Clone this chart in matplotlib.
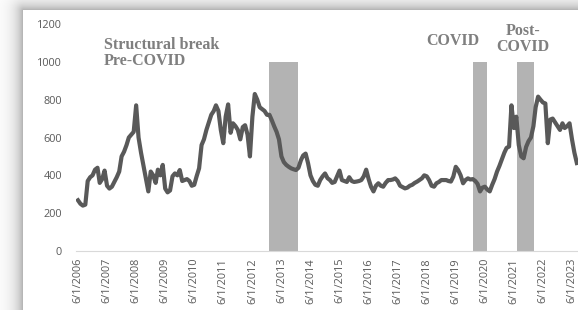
import datetime as dt
import numpy as np
import pandas as pd
import matplotlib
matplotlib.use("Agg")
import matplotlib.pyplot as plt
import matplotlib.dates as mdates

# monthly readings, Jun 2006 .. Aug 2023
v2006 = [268, 250, 240, 245, 370, 390, 400]
v2007 = [430, 440, 360, 380, 425, 345, 330, 340, 365, 390, 420, 500]
v2008 = [525, 560, 600, 615, 630, 770, 600, 520, 450, 380, 315, 420]
v2009 = [400, 360, 430, 400, 455, 330, 310, 320, 395, 410, 400, 428]
v2010 = [370, 375, 380, 370, 345, 350, 395, 437, 560, 590, 640, 680]
v2011 = [720, 740, 770, 740, 640, 570, 710, 775, 625, 675, 660, 640]
v2012 = [590, 655, 665, 615, 500, 710, 830, 800, 760, 750, 740, 720]
v2013 = [720, 690, 660, 630, 590, 500, 470, 455, 445, 437, 432, 428]
v2014 = [440, 480, 505, 515, 465, 400, 370, 350, 345, 375, 395, 410]
v2015 = [385, 375, 360, 365, 395, 425, 375, 370, 365, 390, 370, 365]
v2016 = [367, 370, 375, 395, 430, 380, 340, 315, 345, 358, 345, 340]
v2017 = [360, 375, 375, 378, 384, 370, 345, 338, 331, 335, 345, 350]
v2018 = [360, 367, 375, 384, 400, 395, 375, 345, 340, 358, 365, 375]
v2019 = [375, 375, 370, 367, 393, 445, 428, 400, 358, 375, 384, 378]
v2020 = [380, 370, 355, 315, 335, 340, 325, 315, 350, 380, 420, 450]
v2021 = [485, 520, 545, 552, 770, 650, 710, 560, 500, 490, 550, 580]
v2022 = [600, 660, 760, 816, 800, 785, 780, 570, 695, 700, 680, 660]
v2023 = [640, 675, 650, 660, 675, 590, 520, 465]

values = (v2006 + v2007 + v2008 + v2009 + v2010 + v2011 + v2012 + v2013 + v2014
          + v2015 + v2016 + v2017 + v2018 + v2019 + v2020 + v2021 + v2022 + v2023)
dates = pd.date_range("2006-06-01", periods=len(values), freq="MS")

# shaded periods
span_starts = [dt.date(2013, 1, 1), dt.date(2020, 1, 5), dt.date(2021, 7, 5)]
span_ends = [dt.date(2014, 1, 1), dt.date(2020, 7, 1), dt.date(2022, 2, 10)]
span_height = 1000

tick_years = list(range(2006, 2024))
tick_labels = [f"6/1/{y}" for y in tick_years]

W, H = 578, 310
fig = plt.figure(figsize=(W / 100, H / 100), dpi=100)

# card drop shadow
bg = fig.add_axes([0, 0, 1, 1])
xx, yy = np.meshgrid(np.arange(W), np.arange(H))
dx = np.clip(23 - xx, 0, None)
dy = np.clip(10 - yy, 0, None)
dist = np.sqrt(dx ** 2 + dy ** 2)
grey = np.where((dx > 0) | (dy > 0), 1 - 0.32 * np.exp(-dist / 8.0), 1.0)
bg.imshow(np.dstack([grey] * 3), extent=[0, W, H, 0], aspect="auto")
bg.axis("off")

day_per_px = 365.25 / 29.06
t0 = mdates.date2num(dt.date(2006, 6, 1))
ax = fig.add_axes([76 / W, 59 / H, (582 - 76) / W, 227 / H])
ax.set_facecolor("none")

widths = [(e - s).days for s, e in zip(span_starts, span_ends)]
ax.bar(span_starts, [span_height] * 3, width=widths, align="edge",
       color="#b3b3b3", zorder=1)
ax.plot(dates, values, color="#595959", lw=3.0, zorder=3, solid_joinstyle="round")

ax.set_xlim(t0 - 2 * day_per_px, t0 + 504 * day_per_px)
ax.set_ylim(0, 1200)
ax.set_yticks(range(0, 1201, 200))
ax.set_xticks([dt.date(y, 6, 1) for y in tick_years])
ax.set_xticklabels(tick_labels, rotation=90)
ax.tick_params(axis="both", length=0, colors="#595959", labelsize=7.8)
ax.tick_params(axis="y", pad=10)
ax.tick_params(axis="x", pad=5)
for lab in ax.get_xticklabels() + ax.get_yticklabels():
    lab.set_family("Open Sans")
for s in ["top", "right", "left"]:
    ax.spines[s].set_visible(False)
ax.spines["bottom"].set_color("#d9d9d9")

txt = dict(family="Liberation Serif", weight="bold", color="#7f7f7f",
           fontsize=11.5, linespacing=1.0)
fig.text(104 / W, 1 - 37 / H, "Structural break\nPre-COVID", ha="left", va="top", **txt)
fig.text(453 / W, 1 - 41 / H, "COVID", ha="center", va="center", **txt)
fig.text(523 / W, 1 - 39 / H, "Post-\nCOVID", ha="center", va="center", **txt)

fig.savefig("out.png", dpi=100)
